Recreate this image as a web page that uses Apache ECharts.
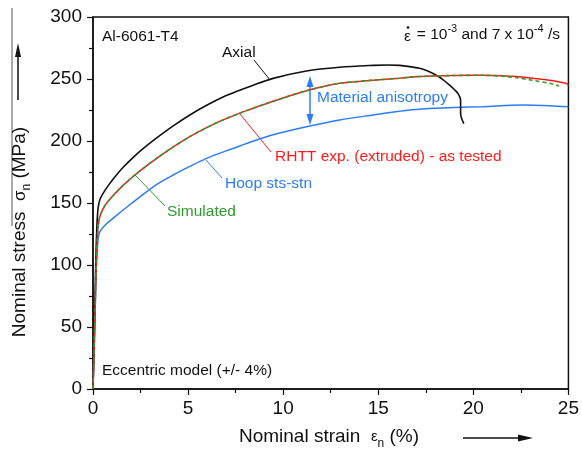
<!DOCTYPE html>
<html>
<head>
<meta charset="utf-8">
<script src="https://cdn.jsdelivr.net/npm/echarts@6/dist/echarts.min.js"></script>
<style>html,body{margin:0;padding:0;background:#fff}#c{width:582px;height:453px}</style>
</head>
<body>
<div id="c"></div>
<script>
// Strain (%) and stress (MPa)
const axialX = [0, 0.05, 0.1, 0.15, 0.2, 0.25, 0.3, 0.37, 0.5, 0.8, 1.2, 1.6, 2.2, 2.6, 3.35, 4.2, 5.09, 6.0, 6.84, 7.72, 8.25, 9.47, 11.22, 12.97, 14.72, 15.5, 16.12, 16.65, 17.17, 17.6, 18.05, 18.4, 18.75, 19.0, 19.19, 19.33, 19.33, 19.5];
const axialY = [0, 30, 70, 105, 130, 143, 149, 153, 157, 164, 172, 179, 188, 193.5, 202.5, 212, 221, 229, 235.5, 241, 244, 250.5, 256.5, 259.5, 261, 261.3, 261, 260, 258.6, 256.5, 253, 249.5, 245, 241.5, 238.4, 233, 222, 214];
const rhttX = [0, 0.09, 0.17, 0.24, 0.3, 0.4, 0.63, 1.0, 1.5, 2.2, 2.73, 3.35, 4.2, 5.09, 6.0, 6.84, 7.72, 8.25, 9.47, 11.22, 12.97, 14.72, 16.12, 16.65, 17.86, 19.0, 20.5, 21.5, 22.3, 23.1, 24.0, 24.88, 25];
const rhttY = [0, 50, 100, 125, 135, 141, 148, 155, 163, 172.6, 179, 186, 195, 203.5, 211, 217, 222.5, 225.5, 232, 240.5, 246.5, 249, 250.6, 251.5, 252.4, 252.8, 253, 252.7, 252, 250.6, 249, 246.5, 245];
const simX = [0, 0.09, 0.17, 0.24, 0.3, 0.4, 0.63, 1.0, 1.5, 2.2, 2.73, 3.35, 4.2, 5.09, 6.0, 6.84, 7.72, 8.25, 9.47, 11.22, 12.97, 14.72, 16.12, 16.65, 17.86, 19.0, 20.5, 21.5, 22.3, 23.1, 24.0, 24.5];
const simY = [0, 50, 100, 125, 135, 141, 148, 155, 163, 172.6, 179, 186, 195, 203.5, 211, 217, 222.5, 225.5, 232, 240.5, 246.5, 249, 250.6, 251.5, 252.4, 252.8, 253, 252.3, 251, 249, 246.5, 244.4];
const hoopX = [0, 0.09, 0.18, 0.25, 0.3, 0.37, 0.63, 1.16, 1.8, 2.47, 3.3, 4.22, 5.09, 5.97, 7.0, 7.72, 8.25, 9.47, 11.22, 12.97, 14.72, 16.12, 16.65, 17.87, 19.0, 20.5, 22.6, 24.0, 25];
const hoopY = [0, 50, 100, 118, 124, 127, 132, 139, 147, 155, 164.5, 172.6, 179.5, 186, 192, 196, 199, 205, 211.5, 217, 221, 224, 225, 226.4, 227, 227.7, 229, 228.5, 227.7];
const xTicks = [0, 5, 10, 15, 20, 25];
const yTicks = [0, 50, 100, 150, 200, 250, 300];

const FONT = 'Liberation Sans, Arial, sans-serif';
const BLUE = '#2b7cf6', RED = '#ff1a1a', GREEN = '#2e9a2e', BLACK = '#111';
const zip = (xs, ys) => xs.map((x, i) => [x, ys[i]]);

const chart = echarts.init(document.getElementById('c'));
function txt(x, y, text, color, extra) {
  return Object.assign({type: 'text', x: x, y: y, style: {text: text, fill: color, font: '15.5px ' + FONT, align: 'left', verticalAlign: 'middle'}}, extra || {});
}
function seg(x1, y1, x2, y2, color, w) {
  return {type: 'line', shape: {x1, y1, x2, y2}, style: {stroke: color, lineWidth: w || 1}};
}
function tri(pts, color) {
  return {type: 'polygon', shape: {points: pts}, style: {fill: color}};
}
chart.setOption({
  animation: false,
  grid: {left: 93, right: 13, top: 17, bottom: 64, show: true, borderColor: BLACK, borderWidth: 1.5, backgroundColor: 'transparent'},
  xAxis: {
    type: 'value', min: xTicks[0], max: xTicks[xTicks.length - 1], interval: 5,
    axisLine: {lineStyle: {color: BLACK, width: 1.5}},
    axisTick: {length: 6, lineStyle: {color: BLACK, width: 1.2}},
    minorTick: {show: true, splitNumber: 2, length: 4, lineStyle: {color: BLACK, width: 1.2}},
    splitLine: {show: false},
    axisLabel: {fontSize: 19, color: '#111', fontFamily: FONT, margin: 10}
  },
  yAxis: {
    type: 'value', min: yTicks[0], max: yTicks[yTicks.length - 1], interval: 50,
    axisLine: {show: true, lineStyle: {color: BLACK, width: 1.5}},
    axisTick: {show: true, length: 6, lineStyle: {color: BLACK, width: 1.2}},
    minorTick: {show: true, splitNumber: 2, length: 4, lineStyle: {color: BLACK, width: 1.2}},
    splitLine: {show: false},
    axisLabel: {fontSize: 19, color: '#111', fontFamily: FONT, margin: 11}
  },
  series: [
    {type: 'line', data: zip(hoopX, hoopY), showSymbol: false, smooth: 0.3, lineStyle: {color: BLUE, width: 1.5}},
    {type: 'line', data: zip(axialX, axialY), showSymbol: false, smooth: 0.3, lineStyle: {color: BLACK, width: 1.6}},
    {type: 'line', data: zip(rhttX, rhttY), showSymbol: false, smooth: 0.3, lineStyle: {color: RED, width: 1.5}},
    {type: 'line', data: zip(simX, simY), showSymbol: false, smooth: 0.3, lineStyle: {color: GREEN, width: 1.6, type: [4, 3]}}
  ],
  graphic: [
    // y title and arrow
    seg(12, 8, 12, 226, '#555', 1),
    {type: 'text', x: 20, y: 232, rotation: Math.PI / 2, style: {
      text: '{t|Nominal stress  }{g|σ}{s|n}{t| (MPa)}', align: 'center', verticalAlign: 'middle',
      rich: {t: {fontSize: 19, fontFamily: FONT, fill: '#111', lineHeight: 26, verticalAlign: 'middle'},
             g: {fontSize: 17, fontFamily: FONT, fill: '#111', lineHeight: 26, verticalAlign: 'middle'},
             s: {fontSize: 12, fontFamily: FONT, fill: '#111', lineHeight: 26, verticalAlign: 'bottom'}}}},
    seg(18, 56, 18, 100, '#111', 1.5),
    tri([[18, 43], [15, 57], [21, 57]], '#111'),
    // x title and arrow
    {type: 'text', x: 329, y: 437, style: {
      text: '{t|Nominal strain  }{g|ε}{s|n}{t| (%)}', align: 'center', verticalAlign: 'middle',
      rich: {t: {fontSize: 19, fontFamily: FONT, fill: '#111', lineHeight: 26, verticalAlign: 'middle'},
             g: {fontSize: 15, fontFamily: FONT, fill: '#111', lineHeight: 26, verticalAlign: 'middle'},
             s: {fontSize: 12, fontFamily: FONT, fill: '#111', lineHeight: 26, verticalAlign: 'bottom'}}}},
    seg(463, 438, 520, 438, '#111', 1.5),
    tri([[533, 438], [518, 434.5], [518, 441.5]], '#111'),
    // annotations
    txt(102, 37, 'Al-6061-T4', '#111'),
    txt(404, 37, 'ε', '#111'),
    {type: 'circle', shape: {cx: 408, cy: 27.5, r: 1.3}, style: {fill: '#111'}},
    {type: 'text', x: 560, y: 35, style: {
      text: '= 10{p|-3} and 7 x 10{p|-4} /s', align: 'right', verticalAlign: 'middle',
      font: '15.5px ' + FONT, fill: '#111',
      rich: {p: {fontSize: 11, fontFamily: FONT, fill: '#111', lineHeight: 24, verticalAlign: 'top'}}}},
    txt(222, 53, 'Axial', '#111'),
    seg(254, 60, 270, 80, '#111', 1),
    txt(317, 98, 'Material anisotropy', BLUE),
    seg(310, 84, 310, 117, BLUE, 1.5),
    tri([[310, 76], [306.5, 87], [313.5, 87]], BLUE),
    tri([[310, 125], [306.5, 114], [313.5, 114]], BLUE),
    txt(275, 157, 'RHTT exp. (extruded) - as tested', RED),
    seg(240, 114, 271, 152, RED, 1),
    txt(225, 184, 'Hoop sts-stn', BLUE),
    seg(206, 160, 222, 178, BLUE, 1),
    txt(167, 212, 'Simulated', GREEN),
    seg(135, 175, 165, 206, GREEN, 1),
    txt(102, 371, 'Eccentric model (+/- 4%)', '#111')
  ]
});
</script>
</body>
</html>
